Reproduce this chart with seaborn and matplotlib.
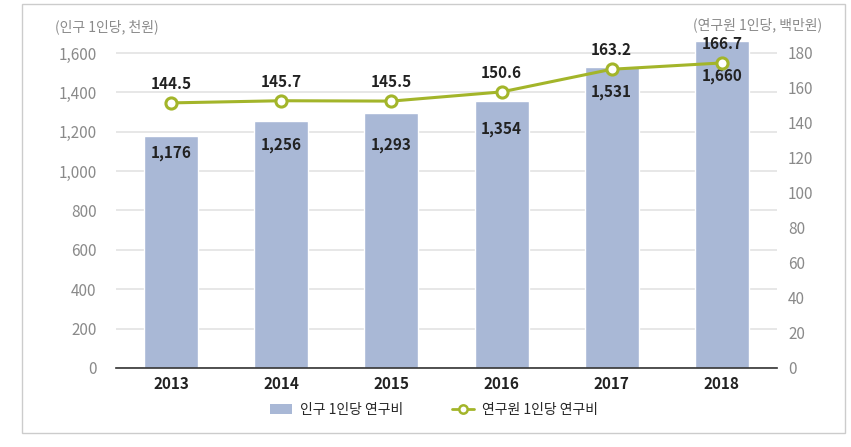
import numpy as np
import pandas as pd
import matplotlib
matplotlib.use("Agg")
import matplotlib.pyplot as plt
from matplotlib.patches import Rectangle
from matplotlib.lines import Line2D
from matplotlib.patches import Patch
import seaborn as sns

years = ["2013", "2014", "2015", "2016", "2017", "2018"]
per_capita = [1176, 1256, 1293, 1354, 1531, 1660]          # 인구 1인당 연구비 (천원)
per_researcher = [144.5, 145.7, 145.5, 150.6, 163.2, 166.7]  # 연구원 1인당 연구비 (백만원)
left_ticks = [0, 200, 400, 600, 800, 1000, 1200, 1400, 1600]
right_ticks = [0, 20, 40, 60, 80, 100, 120, 140, 160, 180]
bar_name = "인구 1인당 연구비"
line_name = "연구원 1인당 연구비"
left_unit = "(인구 1인당, 천원)"
right_unit = "(연구원 1인당, 백만원)"

# label placement (pixels below bar top), as laid out in the reference
bar_label_drop_px = [17, 24, 32, 28, 25, 35]

sns.set_style("white")
plt.rcParams['font.family'] = ['Noto Sans CJK KR', 'DejaVu Sans']

BAR_C = "#A9B8D6"
LINE_C = "#A3B52A"
GRID_C = "#E3E3E3"
TICK_C = "#8A8A8A"
TXT_C = "#222222"
PT = 0.72  # points per pixel at dpi 100

fig = plt.figure(figsize=(8.51, 4.47), dpi=100)
fig.patches.append(Rectangle((22/851, 1-433/447), (845-22)/851, (433-4)/447,
                             transform=fig.transFigure, fill=False,
                             edgecolor="#CCCCCC", linewidth=1.0))

ax_h = (368 - 33.3)
ax = fig.add_axes([116/851, 1-368/447, (777-116)/851, ax_h/447])
df = pd.DataFrame({"year": years, "val": per_capita})
sns.barplot(data=df, x="year", y="val", color=BAR_C, width=0.49, ax=ax,
            saturation=1, zorder=2)
ymax_l = 1700
ax.set_ylim(0, ymax_l)
ax.set_xlim(-0.5, len(years) - 0.5)
ax.set_yticks(left_ticks)
ax.set_yticklabels([f"{t:,}" for t in left_ticks], color=TICK_C, fontsize=11)
ax.yaxis.grid(True, color=GRID_C, linewidth=1.2, zorder=0)
ax.set_axisbelow(True)
ax.tick_params(axis='y', length=0, pad=14)
ax.set_xticks(np.arange(len(years)))
ax.set_xticklabels(years, fontsize=11, fontweight='bold', color=TXT_C)
ax.tick_params(axis='x', length=0, pad=6)
ax.set_xticks(np.arange(-0.5, len(years)), minor=True)
ax.tick_params(axis='x', which='minor', length=5, width=1, color="#333333", direction='out')
ax.set_xlabel("")
ax.set_ylabel("")
for s in ["top", "left", "right"]:
    ax.spines[s].set_visible(False)
ax.spines["bottom"].set_color("#333333")
ax.spines["bottom"].set_linewidth(1.2)

for i, v in enumerate(per_capita):
    ax.annotate(f"{v:,}", (i, v), xytext=(0, -bar_label_drop_px[i] * PT),
                textcoords="offset points", ha="center", va="center",
                fontsize=11, fontweight="bold", color=TXT_C, zorder=6)

# right-hand tick scale
ax3 = ax.twinx()
ax3.set_ylim(0, ymax_l * 180 / 1600)
ax3.set_yticks(right_ticks)
ax3.set_yticklabels([str(t) for t in right_ticks], color=TICK_C, fontsize=11)
ax3.tick_params(axis='y', length=0, pad=8)
for s in ["top", "left", "right", "bottom"]:
    ax3.spines[s].set_visible(False)

# line series (placed as in the reference chart)
ax2 = ax.twinx()
px_per_unit = 1.8
ax2.set_ylim(-5 / px_per_unit, (ax_h - 5) / px_per_unit)
sns.lineplot(x=np.arange(len(years)), y=per_researcher, ax=ax2, color=LINE_C,
             linewidth=2.2, marker='o', markersize=8, markerfacecolor='white',
             markeredgecolor=LINE_C, markeredgewidth=2.2, zorder=5)
ax2.set_yticks([])
ax2.set_ylabel("")
for s in ["top", "left", "right", "bottom"]:
    ax2.spines[s].set_visible(False)
for i, v in enumerate(per_researcher):
    ax2.annotate(f"{v:.1f}", (i, v), xytext=(0, 19 * PT), textcoords="offset points",
                 ha="center", va="center", fontsize=11, fontweight="bold", color=TXT_C)

fig.text(55/851, 1-27/447, left_unit, fontsize=10, color=TICK_C, ha="left", va="center")
fig.text(822/851, 1-25/447, right_unit, fontsize=10, color=TICK_C, ha="right", va="center")

handles = [Patch(facecolor=BAR_C, edgecolor='none'),
           Line2D([0], [0], color=LINE_C, linewidth=2, marker='o', markersize=6,
                  markerfacecolor='white', markeredgecolor=LINE_C, markeredgewidth=1.8)]
fig.legend(handles, [bar_name, line_name], loc="center", bbox_to_anchor=(0.51, 1-410/447),
           ncol=2, frameon=False, fontsize=10, handlelength=1.6, handleheight=0.7,
           columnspacing=3.5, handletextpad=0.6)

fig.savefig("out.png", dpi=100)
